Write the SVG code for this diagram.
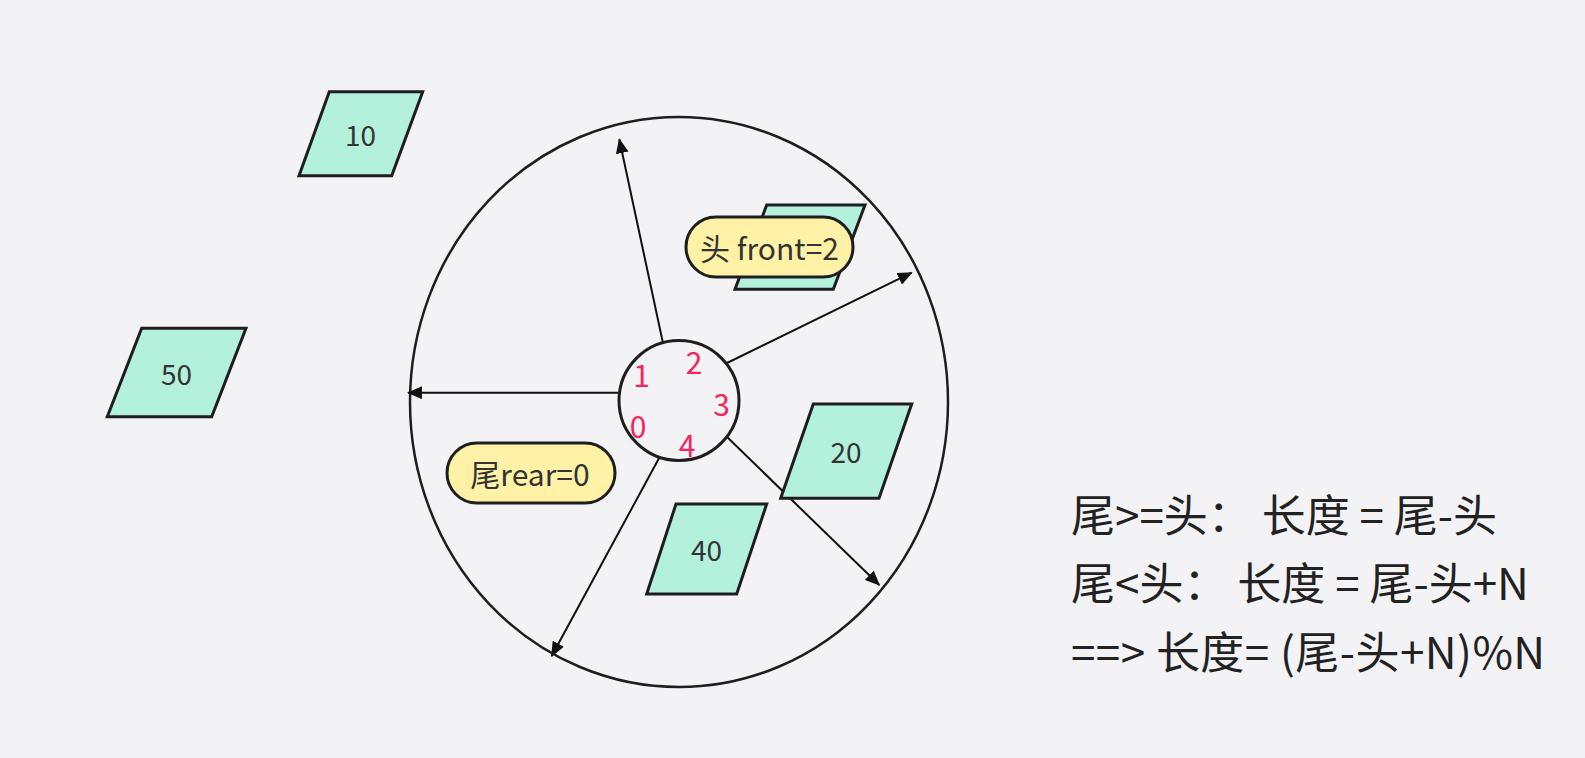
<svg xmlns="http://www.w3.org/2000/svg" width="1585" height="758" viewBox="0 0 1585 758">
<defs>
<style>
text{font-family:"Noto Sans CJK SC","Noto Sans",sans-serif;fill:#333}
.para{fill:#b3f1dc;stroke:#1e1e1e;stroke-width:3;stroke-linejoin:miter}
.pill{fill:#fff1a6;stroke:#1e1e1e;stroke-width:3}
.lbl{font-size:28px;text-anchor:middle;dominant-baseline:central}
.plbl{font-size:30px;text-anchor:middle;dominant-baseline:central}
.idx{font-size:30px;fill:#f5245c;text-anchor:middle;dominant-baseline:central}
.conn{stroke:#111;stroke-width:2;fill:none;marker-end:url(#ah)}
.note{font-size:44px;fill:#222}
</style>
<marker id="ah" viewBox="0 0 14 12" refX="13" refY="6" markerWidth="15" markerHeight="13" markerUnits="userSpaceOnUse" orient="auto">
<path d="M0,0 L14,6 L0,12 z" fill="#111"/>
</marker>
</defs>
<rect width="1585" height="758" fill="#f3f3f5"/>
<g id="ring">
<ellipse cx="679" cy="402" rx="269" ry="285" fill="none" stroke="#1e1e1e" stroke-width="2.5"/>
</g>
<g id="connectors">
<line class="conn" x1="662.7" y1="341.7" x2="619.3" y2="139.3"/>
<line class="conn" x1="725" y1="364" x2="911.7" y2="272.7"/>
<line class="conn" x1="618.5" y1="392.7" x2="408" y2="392.7"/>
<line class="conn" x1="727.3" y1="437.3" x2="879.3" y2="585"/>
<line class="conn" x1="661.7" y1="453.3" x2="551.7" y2="656"/>
</g>
<g id="hub">
<circle cx="679" cy="400.5" r="60" fill="#f3f3f5" stroke="#1e1e1e" stroke-width="3"/>
<text class="idx" x="641.5" y="374">1</text>
<text class="idx" x="694" y="361">2</text>
<text class="idx" x="721.5" y="403">3</text>
<text class="idx" x="638" y="425">0</text>
<text class="idx" x="687" y="444">4</text>
</g>
<g id="node-10">
<polygon class="para" points="329.3,91.7 422.7,91.7 391.7,175.7 299,175.7"/>
<text class="lbl" x="360.5" y="133.5">10</text>
</g>
<g id="node-50">
<polygon class="para" points="141.7,328.3 246,328.3 211.7,416.7 107.3,416.7"/>
<text class="lbl" x="176.5" y="372.5">50</text>
</g>
<g id="node-20">
<polygon class="para" points="813.3,404 911.7,404 879,498.3 780.7,498.3"/>
<text class="lbl" x="846" y="451">20</text>
</g>
<g id="node-40">
<polygon class="para" points="676,504 766.7,504 736.7,594 646.7,594"/>
<text class="lbl" x="706.5" y="549">40</text>
</g>
<g id="node-front-slot">
<polygon class="para" points="766.7,205 865,205 833.3,289.3 735,289.3"/>
</g>
<g id="front-label">
<rect class="pill" x="686" y="217" width="167" height="60" rx="30"/>
<text class="plbl" x="769.5" y="247">头 front=2</text>
</g>
<g id="rear-label">
<rect class="pill" x="447" y="443" width="168" height="60" rx="30"/>
<text class="plbl" x="530" y="473">尾rear=0</text>
</g>
<g id="notes">
<text class="note" x="1071" y="532">尾&gt;=头：  长度 = 尾-头</text>
<text class="note" x="1071" y="600">尾&lt;头：  长度 = 尾-头+N</text>
<text class="note" x="1071" y="669" letter-spacing="0.45">==&gt; 长度= (尾-头+N)%N</text>
</g>
</svg>
